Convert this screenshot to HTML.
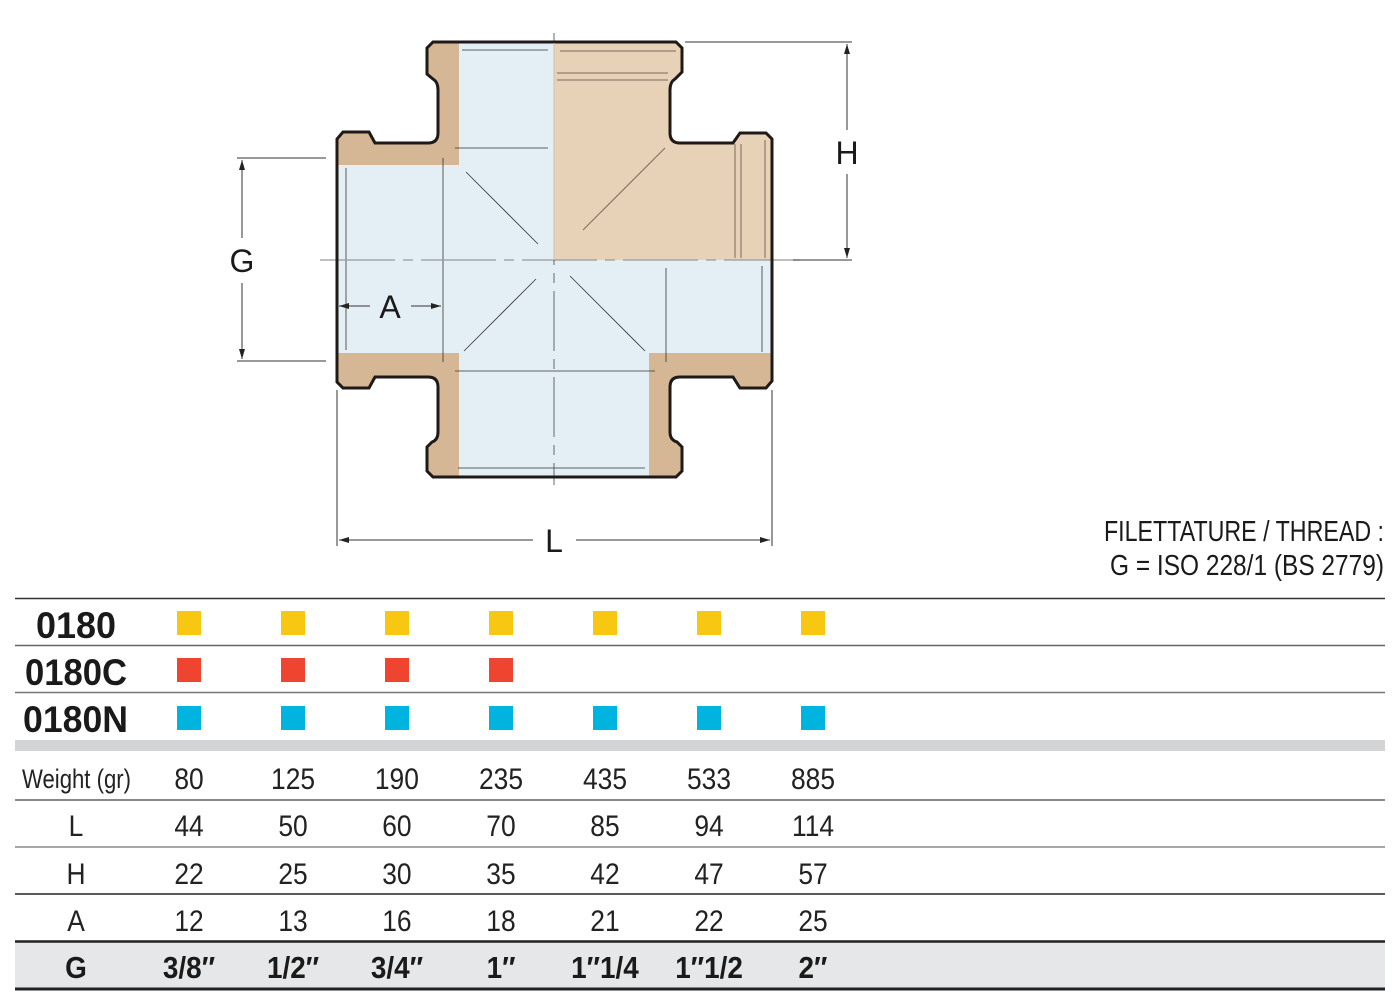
<!DOCTYPE html>
<html><head><meta charset="utf-8"><style>
html,body{margin:0;padding:0;background:#fff}
svg{display:block}
text{font-family:"Liberation Sans Narrow","Liberation Sans",sans-serif}
</style></head><body>
<svg width="1400" height="1004" viewBox="0 0 1400 1004" xmlns="http://www.w3.org/2000/svg">
<defs>
<path id="outl" d="M433 42 L676 42 L682 48 L682 72 L675 79 Q670 82 670 90 L670 133 Q670 143 680 143 L733 143 L740 133 L766 133 L772 139 L772 381 L766 388 L740 388 L733 377 L680 377 Q670 377 670 387 L670 432 Q670 440 677 442 L682 447 L682 471 L676 477 L433 477 L427 471 L427 447 L432 442 Q438 440 438 432 L438 387 Q438 377 428 377 L375 377 L369 388 L343 388 L337 382 L337 139 L343 132 L369 132 L375 143 L428 143 Q438 143 438 133 L438 90 Q438 82 433 79 L427 74 L427 48 Z"/>
<clipPath id="cl"><use href="#outl"/></clipPath>
<marker id="ar" viewBox="0 0 10 10" refX="10" refY="5" markerWidth="10" markerHeight="10" orient="auto-start-reverse" markerUnits="userSpaceOnUse"><path d="M0 2 L10 5 L0 8 Z" fill="#222"/></marker>
</defs>
<use href="#outl" fill="#d6b795"/>
<g clip-path="url(#cl)">
<rect x="459" y="30" width="190" height="460" fill="#e3eff4"/>
<rect x="330" y="165" width="450" height="188" fill="#e3eff4"/>
<rect x="554" y="30" width="230" height="230" fill="#e8d2b7"/>
</g>
<g stroke="#7d6a5a" stroke-width="1" fill="none">
<line x1="560" y1="51" x2="676" y2="51"/><line x1="557" y1="73" x2="668" y2="73"/><line x1="557" y1="80" x2="668" y2="80"/>
<line x1="735" y1="144" x2="735" y2="258"/><line x1="741" y1="144" x2="741" y2="258"/><line x1="765" y1="140" x2="765" y2="258"/>
<line x1="665" y1="148" x2="583" y2="230"/>
</g>
<g stroke="#333" stroke-width="0.8" fill="none">
<line x1="466" y1="172" x2="538" y2="244"/><line x1="536" y1="279" x2="464" y2="351"/><line x1="570" y1="276" x2="645" y2="351"/>
<line x1="346" y1="168" x2="346" y2="350"/><line x1="666" y1="268" x2="666" y2="362"/><line x1="762" y1="266" x2="762" y2="352"/>
<line x1="455" y1="148" x2="548" y2="148"/><line x1="455" y1="371" x2="655" y2="371"/>
<line x1="462" y1="50" x2="548" y2="50"/><line x1="458" y1="468" x2="645" y2="468"/>
<line x1="443" y1="158" x2="443" y2="362"/>
</g>
<g stroke="#999" stroke-width="1.2" fill="none" stroke-dasharray="75 8 10 8">
<line x1="320" y1="260" x2="800" y2="260"/>
</g>
<g stroke="#444" stroke-width="0.8" fill="none" stroke-dasharray="60 8 10 8">
<line x1="554" y1="33" x2="554" y2="485"/>
</g>
<use href="#outl" fill="none" stroke="#1f1a17" stroke-width="3"/>
<line x1="554" y1="43" x2="554" y2="260" stroke="#cfc0a8" stroke-width="1"/>
<g stroke="#333" stroke-width="1" fill="none">
<line x1="237" y1="158" x2="326" y2="158"/><line x1="237" y1="361" x2="326" y2="361"/>
<line x1="242" y1="160" x2="242" y2="238" marker-start="url(#ar)"/><line x1="242" y1="283" x2="242" y2="359" marker-end="url(#ar)"/>
<line x1="685" y1="42" x2="852" y2="42"/><line x1="793" y1="260" x2="852" y2="260"/>
<line x1="847" y1="44" x2="847" y2="130" marker-start="url(#ar)"/><line x1="847" y1="174" x2="847" y2="258" marker-end="url(#ar)"/>
<line x1="337" y1="390" x2="337" y2="546"/><line x1="772" y1="390" x2="772" y2="546"/>
<line x1="339" y1="540" x2="533" y2="540" marker-start="url(#ar)"/><line x1="576" y1="540" x2="770" y2="540" marker-end="url(#ar)"/>
<line x1="339" y1="306" x2="370" y2="306" marker-start="url(#ar)"/><line x1="411" y1="306" x2="441" y2="306" marker-end="url(#ar)"/>
</g>
<g font-size="32" fill="#1a1a1a" text-anchor="middle">
<text x="242" y="272">G</text>
<text x="847" y="164">H</text>
<text x="554" y="552">L</text>
<text x="390" y="318">A</text>
</g>
<g font-size="29" fill="#1a1a1a">
<text x="1104" y="541" textLength="280" lengthAdjust="spacingAndGlyphs">FILETTATURE / THREAD :</text>
<text x="1110" y="575" textLength="274" lengthAdjust="spacingAndGlyphs">G = ISO 228/1 (BS 2779)</text>
</g>
<rect x="15" y="740" width="1370" height="11" fill="#d3d4d6"/>
<rect x="15" y="942" width="1370" height="46" fill="#e6e7e8"/>
<g stroke-width="1.5">
<line x1="15" y1="598.5" x2="1385" y2="598.5" stroke="#333"/>
<line x1="15" y1="645.5" x2="1385" y2="645.5" stroke="#666"/>
<line x1="15" y1="692.5" x2="1385" y2="692.5" stroke="#777"/>
<line x1="15" y1="800" x2="1385" y2="800" stroke="#888" stroke-width="2"/>
<line x1="15" y1="847" x2="1385" y2="847" stroke="#888"/>
<line x1="15" y1="894" x2="1385" y2="894" stroke="#222"/>
<line x1="15" y1="941.5" x2="1385" y2="941.5" stroke="#222" stroke-width="2.5"/>
<line x1="15" y1="989" x2="1385" y2="989" stroke="#222" stroke-width="3"/>
</g>
<g font-weight="bold" font-size="37" fill="#1a1a1a">
<text x="36" y="638" textLength="80" lengthAdjust="spacingAndGlyphs">0180</text>
<text x="25" y="685" textLength="102" lengthAdjust="spacingAndGlyphs">0180C</text>
<text x="23" y="732" textLength="105" lengthAdjust="spacingAndGlyphs">0180N</text>
</g>
<g fill="#f7c712">
<rect x="177" y="611" width="24" height="24"/><rect x="281" y="611" width="24" height="24"/><rect x="385" y="611" width="24" height="24"/><rect x="489" y="611" width="24" height="24"/><rect x="593" y="611" width="24" height="24"/><rect x="697" y="611" width="24" height="24"/><rect x="801" y="611" width="24" height="24"/>
</g>
<g fill="#ef4530">
<rect x="177" y="658" width="24" height="24"/><rect x="281" y="658" width="24" height="24"/><rect x="385" y="658" width="24" height="24"/><rect x="489" y="658" width="24" height="24"/>
</g>
<g fill="#00b4e0">
<rect x="177" y="706" width="24" height="24"/><rect x="281" y="706" width="24" height="24"/><rect x="385" y="706" width="24" height="24"/><rect x="489" y="706" width="24" height="24"/><rect x="593" y="706" width="24" height="24"/><rect x="697" y="706" width="24" height="24"/><rect x="801" y="706" width="24" height="24"/>
</g>
<text x="22" y="788" font-size="27" fill="#222" textLength="109" lengthAdjust="spacingAndGlyphs">Weight (gr)</text>
<g font-size="30" fill="#222" text-anchor="middle" transform="translate(0,0)">
<g transform="scale(0.88,1)">
<text x="214.8" y="789">80</text><text x="333" y="789">125</text><text x="451" y="789">190</text><text x="569.3" y="789">235</text><text x="687.5" y="789">435</text><text x="805.7" y="789">533</text><text x="923.9" y="789">885</text>
<text x="86.4" y="836">L</text>
<text x="214.8" y="836">44</text><text x="333" y="836">50</text><text x="451" y="836">60</text><text x="569.3" y="836">70</text><text x="687.5" y="836">85</text><text x="805.7" y="836">94</text><text x="923.9" y="836">114</text>
<text x="86.4" y="884">H</text>
<text x="214.8" y="884">22</text><text x="333" y="884">25</text><text x="451" y="884">30</text><text x="569.3" y="884">35</text><text x="687.5" y="884">42</text><text x="805.7" y="884">47</text><text x="923.9" y="884">57</text>
<text x="86.4" y="931">A</text>
<text x="214.8" y="931">12</text><text x="333" y="931">13</text><text x="451" y="931">16</text><text x="569.3" y="931">18</text><text x="687.5" y="931">21</text><text x="805.7" y="931">22</text><text x="923.9" y="931">25</text>
</g>
</g>
<g font-size="31" font-weight="bold" fill="#1a1a1a" text-anchor="middle">
<g transform="scale(0.9,1)">
<text x="84.4" y="978">G</text>
<text x="210" y="978">3/8″</text><text x="325.6" y="978">1/2″</text><text x="441.1" y="978">3/4″</text><text x="556.7" y="978">1″</text><text x="672.2" y="978">1″1/4</text><text x="787.8" y="978">1″1/2</text><text x="903.3" y="978">2″</text>
</g>
</g>
</svg>
</body></html>
